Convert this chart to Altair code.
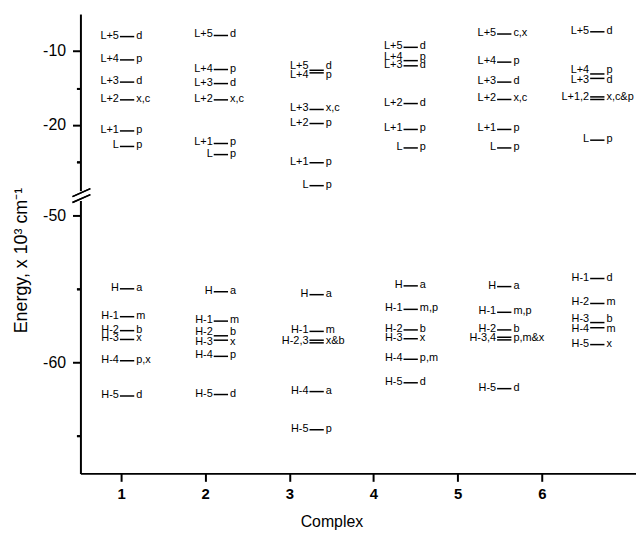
import altair as alt
import pandas as pd

FONT = "Liberation Sans"

# x position (in "Complex" units) of each complex's column of levels
complexes = [1, 2, 3, 4, 5, 6]
column_x = [1.071, 2.186, 3.324, 4.442, 5.554, 6.660]

lvl_complex = ([1] * 12 + [2] * 12 + [3] * 11 + [4] * 12 + [5] * 11 + [6] * 10)
lvl_left = [
    "L+5", "L+4", "L+3", "L+2", "L+1", "L", "H", "H-1", "H-2", "H-3", "H-4", "H-5",
    "L+5", "L+4", "L+3", "L+2", "L+1", "L", "H", "H-1", "H-2", "H-3", "H-4", "H-5",
    "L+5", "L+4", "L+3", "L+2", "L+1", "L", "H", "H-1", "H-2,3", "H-4", "H-5",
    "L+5", "L+4", "L+3", "L+2", "L+1", "L", "H", "H-1", "H-2", "H-3", "H-4", "H-5",
    "L+5", "L+4", "L+3", "L+2", "L+1", "L", "H", "H-1", "H-2", "H-3,4", "H-5",
    "L+5", "L+4", "L+3", "L+1,2", "L", "H-1", "H-2", "H-3", "H-4", "H-5",
]
lvl_right = [
    "d", "p", "d", "x,c", "p", "p", "a", "m", "b", "x", "p,x", "d",
    "d", "p", "d", "x,c", "p", "p", "a", "m", "b", "x", "p", "d",
    "d", "p", "x,c", "p", "p", "p", "a", "m", "x&b", "a", "p",
    "d", "p", "d", "d", "p", "p", "a", "m,p", "b", "x", "p,m", "d",
    "c,x", "p", "d", "x,c", "p", "p", "a", "m,p", "b", "p,m&x", "d",
    "d", "p", "d", "x,c&p", "p", "d", "m", "b", "m", "x",
]
lvl_energy = [
    -8.05, -11.2, -14.2, -16.6, -20.8, -22.9, -55.0, -56.9, -57.85, -58.45, -59.9, -62.3,
    -7.9, -12.5, -14.4, -16.6, -22.5, -24.0, -55.2, -57.2, -58.2, -58.5, -59.6, -62.2,
    -12.6, -12.95, -17.9, -19.8, -25.1, -28.2, -55.4, -57.9, -58.5, -62.0, -64.6,
    -9.5, -11.3, -12.0, -17.1, -20.6, -23.1, -54.8, -56.4, -57.8, -58.4, -59.8, -61.4,
    -7.7, -11.5, -14.2, -16.55, -20.6, -23.1, -54.85, -56.6, -57.8, -58.3, -61.8,
    -7.4, -13.1, -13.7, -16.2, -22.05, -54.3, -56.0, -57.3, -57.65, -58.8,
]
# second (degenerate) line of a pair drawn as a double bar
degenerate_energy = {(3, "H-2,3"): -58.68, (5, "H-3,4"): -58.48, (6, "L+1,2"): -16.55}
# where a crowded label's text sits (energy of text centre)
label_energy = {
    (2, "H-2"): -58.0, (2, "H-3"): -58.67,
    (3, "L+5"): -12.17, (3, "L+4"): -13.42,
    (4, "L+4"): -10.97, (4, "L+3"): -12.08,
    (6, "L+4"): -12.66, (6, "L+3"): -14.0,
    (6, "H-3"): -57.1, (6, "H-4"): -57.84,
}

HALF = 0.085
line_rows, label_rows = [], []
for c, lft, rgt, e in zip(lvl_complex, lvl_left, lvl_right, lvl_energy):
    xc = column_x[c - 1]
    energies = [e]
    if (c, lft) in degenerate_energy:
        energies.append(degenerate_energy[(c, lft)])
    for ee in energies:
        line_rows.append({"x0": xc - HALF, "x1": xc + HALF, "e": ee})
    le = label_energy.get((c, lft), sum(energies) / len(energies))
    label_rows.append({"x0": xc - HALF, "x1": xc + HALF, "e": le, "left": lft, "right": rgt})

lines = pd.DataFrame(line_rows)
labels = pd.DataFrame(label_rows)
up_lines, lo_lines = lines[lines.e > -40], lines[lines.e <= -40]
up_labels, lo_labels = labels[labels.e > -40], labels[labels.e <= -40]

xscale = alt.Scale(domain=[0.5165, 7.12], nice=False, zero=False)


def y_axis(values, **kw):
    return alt.Axis(
        values=values, orient="left",
        labelExpr="'' + datum.value",
        tickSize=8, tickWidth=2, tickColor="black",
        domainColor="black", domainWidth=2, grid=False,
        labelFont=FONT, labelFontSize=16, labelColor="black", labelPadding=7,
        **kw)


def y_minor(values):
    return alt.Axis(values=values, orient="left", labels=False, domain=False,
                    tickSize=4, tickWidth=2, tickColor="black", grid=False, title=None)


x_axis_lower = alt.Axis(
    values=complexes, grid=False, domainColor="black", domainWidth=2,
    tickColor="black", tickWidth=2, tickSize=8,
    labelFont=FONT, labelFontSize=15, labelFontWeight="bold", labelColor="black",
    labelPadding=5, titleFont=FONT, titleFontSize=16, titleFontWeight="normal",
    titleColor="black", titlePadding=13, titleX=253)


def panel(ln, lb, ydom, h, yax, yminor, xax, extra=None):
    ys = alt.Scale(domain=ydom, nice=False, zero=False)
    X0 = alt.X("x0:Q", scale=xscale, axis=xax, title="Complex")
    X1 = alt.X("x1:Q", scale=xscale, axis=xax, title="Complex")
    rules = alt.Chart(ln).mark_rule(color="black", strokeWidth=1.5).encode(
        x=X0, x2="x1:Q", y=alt.Y("e:Q", scale=ys, axis=yax))
    left = alt.Chart(lb).mark_text(
        align="right", baseline="middle", dx=-1, dy=-1, fontSize=11, font=FONT,
        color="black").encode(x=X0, y=alt.Y("e:Q", scale=ys, axis=yminor), text="left:N")
    right = alt.Chart(lb).mark_text(
        align="left", baseline="middle", dx=2, dy=-1, fontSize=11, font=FONT,
        color="black").encode(x=X1, y=alt.Y("e:Q", scale=ys, axis=yminor), text="right:N")
    layers = [rules, left, right] + (extra or [])
    return alt.layer(*layers).resolve_axis(y="independent").properties(width=560, height=h)


brk = pd.DataFrame({"k": [0, 1]})
breaks = [
    alt.Chart(brk).mark_rule(color="black", strokeWidth=1.5).encode(
        x=alt.value(-8), x2=alt.value(10), y=alt.value(184 + 6 * i), y2=alt.value(176 + 6 * i))
    for i in range(2)
]

upper = panel(up_lines, up_labels, [-28.87, -5], 178,
              y_axis([-10, -20], title=None), y_minor([-15, -25]), None, extra=breaks)
lower = panel(lo_lines, lo_labels, [-67.57, -48.99], 275,
              y_axis([-50, -60], title="Energy, x 10\u00b3 cm\u207b\u00b9",
                     titleFont=FONT, titleFontSize=18, titleFontWeight="normal",
                     titleColor="black", titleX=-59, titleY=60, titleBaseline="middle"),
              y_minor([-55, -65]), x_axis_lower)

chart = alt.vconcat(upper, lower, spacing=10, bounds="flush").properties(
    padding={"left": 5, "top": 4, "right": 0, "bottom": 0}
).configure_view(strokeWidth=0)

chart.save("out.html", embed_options={"renderer": "svg", "actions": False})
